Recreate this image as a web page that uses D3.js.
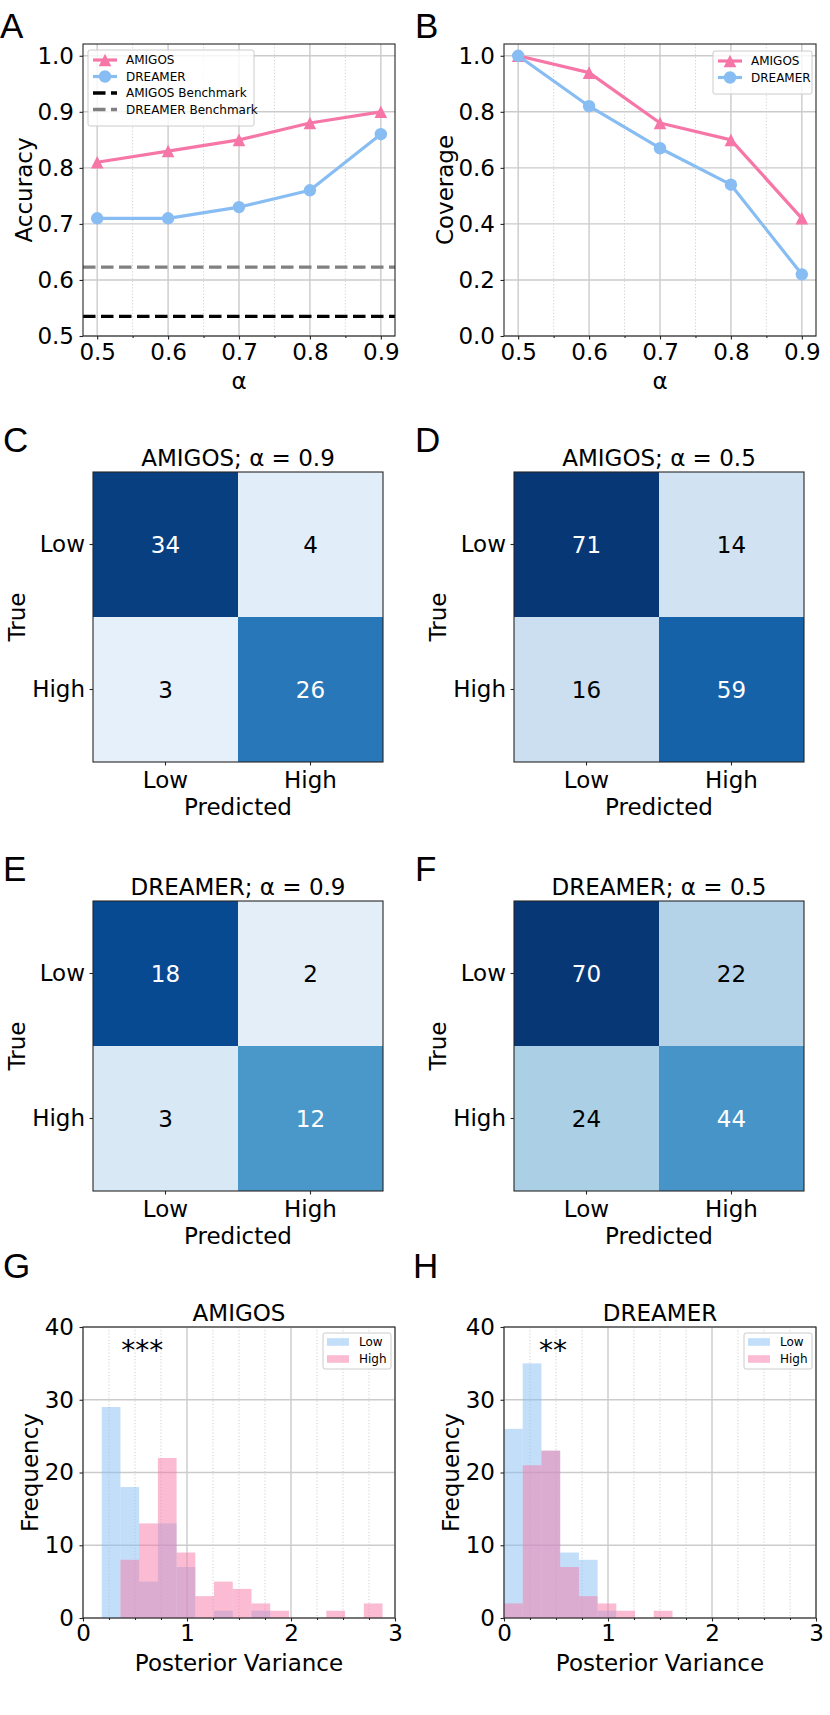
<!DOCTYPE html>
<html>
<head>
<meta charset="utf-8">
<script src="https://cdn.jsdelivr.net/npm/d3@7"></script>
<style>
body { margin: 0; background: #fff; }
text { font-family: "DejaVu Sans", sans-serif; fill: #000; }
.letter { font-family: "Liberation Sans", Arial, sans-serif; font-size: 35px; }
</style>
</head>
<body>
<svg id="fig" width="830" height="1715"></svg>
<script>
// ---- data ----
var alphas = [0.5, 0.6, 0.7, 0.8, 0.9];
var accAmigos = [0.81, 0.83, 0.85, 0.88, 0.90];
var accDreamer = [0.71, 0.71, 0.73, 0.76, 0.86];
var benchAmigos = 0.535;
var benchDreamer = 0.623;
var covAmigos = [1.00, 0.94, 0.76, 0.70, 0.42];
var covDreamer = [1.00, 0.82, 0.67, 0.54, 0.22];
var accTicks = [0.5, 0.6, 0.7, 0.8, 0.9, 1.0];
var covTicks = [0.0, 0.2, 0.4, 0.6, 0.8, 1.0];

var classes = ["Low", "High"];
var cmAmigos09 = [[34, 4], [3, 26]];
var cmAmigos05 = [[71, 14], [16, 59]];
var cmDreamer09 = [[18, 2], [3, 12]];
var cmDreamer05 = [[70, 22], [24, 44]];

var binsAmigos = [0.18, 0.36, 0.54, 0.72, 0.90, 1.08, 1.26, 1.44, 1.62, 1.80, 1.98, 2.16, 2.34, 2.52, 2.70, 2.88];
var histAmigosLow = [29, 18, 5, 13, 7, 0, 1, 0, 1, 0, 0, 0, 0, 0, 0];
var histAmigosHigh = [0, 8, 13, 22, 9, 3, 5, 4, 2, 1, 0, 0, 1, 0, 2];
var binsDreamer = [0, 0.18, 0.36, 0.54, 0.72, 0.90, 1.08, 1.26, 1.44, 1.62];
var histDreamerLow = [26, 35, 23, 9, 8, 1, 0, 0, 0];
var histDreamerHigh = [2, 21, 23, 7, 3, 2, 1, 0, 1];
var freqTicks = [0, 10, 20, 30, 40];
var varTicks = [0, 1, 2, 3];

// ---- styling ----
var pink = "#f677a7", blue = "#87bdf3";
var gridCol = "#cbcbcb", spineCol = "#262626";
var blues = ["#f7fbff", "#deebf7", "#c6dbef", "#9ecae1", "#6baed6", "#4292c6", "#2171b5", "#08519c", "#08306b"];
var FS = 23;

var svg = d3.select("#fig");
svg.append("rect").attr("width", 830).attr("height", 1715).attr("fill", "#fff");

function letter(s, x, y) {
  svg.append("text").attr("class", "letter").attr("x", x).attr("y", y).text(s);
}

function styleAxis(a) {
  a.attr("font-size", FS).attr("font-family", null);
  a.select(".domain").remove();
  a.selectAll(".tick line").attr("stroke", spineCol).attr("stroke-width", 1.1);
}

function spines(g, b) {
  g.append("rect").attr("x", b.l).attr("y", b.t).attr("width", b.r - b.l).attr("height", b.b - b.t)
    .attr("fill", "none").attr("stroke", spineCol).attr("stroke-width", 1.1);
}

function vgrid(g, vals, x, b, dotted) {
  g.selectAll(null).data(vals).enter().append("line")
    .attr("x1", function(d) { return x(d); }).attr("x2", function(d) { return x(d); })
    .attr("y1", b.t).attr("y2", b.b)
    .attr("stroke", gridCol).attr("stroke-width", dotted ? 0.9 : 1.4)
    .attr("stroke-dasharray", dotted ? "1.2,2" : null);
}
function hgrid(g, vals, y, b) {
  g.selectAll(null).data(vals).enter().append("line")
    .attr("y1", function(d) { return y(d); }).attr("y2", function(d) { return y(d); })
    .attr("x1", b.l).attr("x2", b.r)
    .attr("stroke", gridCol).attr("stroke-width", 1.4);
}

function marker(sel, type, color) {
  if (type == "tri") {
    sel.append("path").attr("d", "M0,-6.3L6.3,6.3L-6.3,6.3Z").attr("fill", color);
  } else {
    sel.append("circle").attr("r", 6.2).attr("fill", color);
  }
}

function legendBox(g, x, y, w, h) {
  g.append("rect").attr("x", x).attr("y", y).attr("width", w).attr("height", h).attr("rx", 2)
    .attr("fill", "#fff").attr("fill-opacity", 0.8).attr("stroke", "#cccccc").attr("stroke-width", 1);
}

// ---- line charts (A, B) ----
function lineChart(b, ydom, yticks, ylabel, series, benches, leg) {
  var x = d3.scaleLinear().domain([0.48, 0.92]).range([b.l, b.r]);
  var y = d3.scaleLinear().domain(ydom).range([b.b, b.t]);
  var g = svg.append("g");
  var minor = alphas.slice(1).map(function(a) { return +(a - 0.05).toFixed(2); });
  vgrid(g, minor, x, b, true);
  vgrid(g, alphas, x, b, false);
  hgrid(g, yticks, y, b);

  var line = d3.line().x(function(d, i) { return x(alphas[i]); }).y(function(d) { return y(d); });
  series.forEach(function(s) {
    g.append("path").datum(s.vals).attr("d", line).attr("fill", "none")
      .attr("stroke", s.color).attr("stroke-width", 3.2).attr("stroke-linejoin", "round");
    g.selectAll(null).data(s.vals).enter().append("g")
      .attr("transform", function(d, i) { return "translate(" + x(alphas[i]) + "," + y(d) + ")"; })
      .each(function() { marker(d3.select(this), s.marker, s.color); });
  });
  benches.forEach(function(bn) {
    g.append("line").attr("x1", b.l).attr("x2", b.r).attr("y1", y(bn.val)).attr("y2", y(bn.val))
      .attr("stroke", bn.color).attr("stroke-width", 3.3).attr("stroke-dasharray", "12.5,5.5");
  });

  var ax = g.append("g").attr("transform", "translate(0," + b.b + ")")
    .call(d3.axisBottom(x).tickValues(alphas).tickSize(3.5).tickPadding(4.5).tickFormat(d3.format(".1f")));
  styleAxis(ax);
  var axm = g.append("g").attr("transform", "translate(0," + b.b + ")")
    .call(d3.axisBottom(x).tickValues(minor).tickSize(2).tickFormat(""));
  styleAxis(axm);
  var ay = g.append("g").attr("transform", "translate(" + b.l + ",0)")
    .call(d3.axisLeft(y).tickValues(yticks).tickSize(3.5).tickPadding(5.5).tickFormat(d3.format(".1f")));
  styleAxis(ay);
  spines(g, b);

  g.append("text").attr("x", (b.l + b.r) / 2).attr("y", b.b + 53).attr("text-anchor", "middle")
    .attr("font-size", FS).text("α");
  g.append("text").attr("transform", "translate(" + (b.l - 51) + "," + ((b.t + b.b) / 2) + ") rotate(-90)")
    .attr("text-anchor", "middle").attr("font-size", FS).text(ylabel);

  // legend
  var items = series.map(function(s) { return { name: s.name, color: s.color, marker: s.marker }; })
    .concat(benches.map(function(bn) { return { name: bn.name, color: bn.color, dash: true }; }));
  legendBox(g, leg.x, leg.y, leg.w, 10 + items.length * 16.5);
  items.forEach(function(it, i) {
    var ry = leg.y + 10 + i * 16.5;
    var lx = leg.x + 5;
    g.append("line").attr("x1", lx).attr("x2", lx + 24).attr("y1", ry).attr("y2", ry)
      .attr("stroke", it.color).attr("stroke-width", it.dash ? 3.3 : 3.2)
      .attr("stroke-dasharray", it.dash ? "12.5,5.5" : null);
    if (!it.dash) {
      var m = g.append("g").attr("transform", "translate(" + (lx + 12) + "," + ry + ")");
      marker(m, it.marker, it.color);
    }
    g.append("text").attr("x", lx + 33).attr("y", ry + 4.3).attr("font-size", 12).text(it.name);
  });
}

// ---- confusion matrices (C-F) ----
function matrix(b, vals, title) {
  var g = svg.append("g");
  var bx = d3.scaleBand().domain(classes).range([b.l, b.l + b.s]);
  var by = d3.scaleBand().domain(classes).range([b.t, b.t + b.s]);
  // colour norm runs from 0 to a little above the largest count
  var vmax = d3.max(vals, function(r) { return d3.max(r); }) + 2;
  var col = d3.scaleLinear().domain(blues.map(function(c, i) { return vmax * i / (blues.length - 1); }))
    .range(blues).interpolate(d3.interpolateRgb);
  var cells = [];
  vals.forEach(function(r, i) { r.forEach(function(v, j) { cells.push({ t: classes[i], p: classes[j], v: v }); }); });
  g.selectAll(null).data(cells).enter().append("rect")
    .attr("x", function(d) { return bx(d.p); }).attr("y", function(d) { return by(d.t); })
    .attr("width", bx.bandwidth()).attr("height", by.bandwidth())
    .attr("fill", function(d) { return col(d.v); });
  g.selectAll(null).data(cells).enter().append("text")
    .attr("x", function(d) { return bx(d.p) + bx.bandwidth() / 2; })
    .attr("y", function(d) { return by(d.t) + by.bandwidth() / 2 + 8.3; })
    .attr("text-anchor", "middle").attr("font-size", FS)
    .style("fill", function(d) { return d.v > vmax / 2 ? "#fff" : "#000"; })
    .text(function(d) { return d.v; });
  var ax = g.append("g").attr("transform", "translate(0," + (b.t + b.s) + ")")
    .call(d3.axisBottom(bx).tickSize(3.5).tickPadding(6));
  styleAxis(ax);
  var ay = g.append("g").attr("transform", "translate(" + b.l + ",0)")
    .call(d3.axisLeft(by).tickSize(3.5).tickPadding(4.5));
  styleAxis(ay);
  spines(g, { l: b.l, t: b.t, r: b.l + b.s, b: b.t + b.s });
  g.append("text").attr("x", b.l + b.s / 2).attr("y", b.t - 6).attr("text-anchor", "middle")
    .attr("font-size", FS).text(title);
  g.append("text").attr("x", b.l + b.s / 2).attr("y", b.t + b.s + 53).attr("text-anchor", "middle")
    .attr("font-size", FS).text("Predicted");
  g.append("text").attr("transform", "translate(" + (b.l - 68) + "," + (b.t + b.s / 2) + ") rotate(-90)")
    .attr("text-anchor", "middle").attr("font-size", FS).text("True");
}

// ---- histograms (G, H) ----
function hist(b, bins, low, high, title, stars) {
  var g = svg.append("g");
  var x = d3.scaleLinear().domain([0, 3]).range([b.l, b.r]);
  var y = d3.scaleLinear().domain([0, 40]).range([b.b, b.t]);
  var minor = d3.range(1, 12).map(function(k) { return k * 0.25; }).filter(function(v) { return v % 1 !== 0; });
  vgrid(g, minor, x, b, true);
  vgrid(g, varTicks, x, b, false);
  hgrid(g, freqTicks, y, b);
  [{ c: low, col: blue }, { c: high, col: pink }].forEach(function(s) {
    g.selectAll(null).data(s.c).enter().append("rect")
      .attr("x", function(d, i) { return x(bins[i]); })
      .attr("width", function(d, i) { return x(bins[i + 1]) - x(bins[i]); })
      .attr("y", function(d) { return y(d); })
      .attr("height", function(d) { return y(0) - y(d); })
      .attr("fill", s.col).attr("fill-opacity", 0.5);
  });
  var ax = g.append("g").attr("transform", "translate(0," + b.b + ")")
    .call(d3.axisBottom(x).tickValues(varTicks).tickSize(3.5).tickPadding(3.5).tickFormat(d3.format("d")));
  styleAxis(ax);
  var axm = g.append("g").attr("transform", "translate(0," + b.b + ")")
    .call(d3.axisBottom(x).tickValues(minor).tickSize(2).tickFormat(""));
  styleAxis(axm);
  var ay = g.append("g").attr("transform", "translate(" + b.l + ",0)")
    .call(d3.axisLeft(y).tickValues(freqTicks).tickSize(3.5).tickPadding(5.5).tickFormat(d3.format("d")));
  styleAxis(ay);
  spines(g, b);
  g.append("text").attr("x", (b.l + b.r) / 2).attr("y", b.t - 6).attr("text-anchor", "middle")
    .attr("font-size", FS).text(title);
  g.append("text").attr("x", (b.l + b.r) / 2).attr("y", b.b + 53).attr("text-anchor", "middle")
    .attr("font-size", FS).text("Posterior Variance");
  g.append("text").attr("transform", "translate(" + (b.l - 45) + "," + ((b.t + b.b) / 2) + ") rotate(-90)")
    .attr("text-anchor", "middle").attr("font-size", FS).text("Frequency");
  g.append("text").attr("x", x(stars.x)).attr("y", y(stars.y)).attr("text-anchor", "middle")
    .attr("font-size", 28).text(stars.text);
  // legend
  var lx = b.r - 72, ly = b.t + 6;
  legendBox(g, lx, ly, 68, 36);
  [{ n: "Low", col: blue }, { n: "High", col: pink }].forEach(function(it, i) {
    var ry = ly + 9 + i * 17;
    g.append("rect").attr("x", lx + 4).attr("y", ry - 3.8).attr("width", 22).attr("height", 7.6)
      .attr("fill", it.col).attr("fill-opacity", 0.5);
    g.append("text").attr("x", lx + 36).attr("y", ry + 4.3).attr("font-size", 12).text(it.n);
  });
}

// ---- layout ----
lineChart({ l: 83, t: 44, r: 395, b: 336 }, [0.5, 1.021], accTicks, "Accuracy",
  [{ name: "AMIGOS", vals: accAmigos, color: pink, marker: "tri" },
   { name: "DREAMER", vals: accDreamer, color: blue, marker: "dot" }],
  [{ name: "AMIGOS Benchmark", val: benchAmigos, color: "#000" },
   { name: "DREAMER Benchmark", val: benchDreamer, color: "#808080" }],
  { x: 88, y: 50, w: 166 });
lineChart({ l: 504, t: 44, r: 816, b: 336 }, [0, 1.042], covTicks, "Coverage",
  [{ name: "AMIGOS", vals: covAmigos, color: pink, marker: "tri" },
   { name: "DREAMER", vals: covDreamer, color: blue, marker: "dot" }],
  [], { x: 713, y: 51, w: 99 });

matrix({ l: 93, t: 472, s: 290 }, cmAmigos09, "AMIGOS; α = 0.9");
matrix({ l: 514, t: 472, s: 290 }, cmAmigos05, "AMIGOS; α = 0.5");
matrix({ l: 93, t: 901, s: 290 }, cmDreamer09, "DREAMER; α = 0.9");
matrix({ l: 514, t: 901, s: 290 }, cmDreamer05, "DREAMER; α = 0.5");

hist({ l: 83, t: 1327, r: 395, b: 1618 }, binsAmigos, histAmigosLow, histAmigosHigh, "AMIGOS",
  { text: "***", x: 0.57, y: 35.4 });
hist({ l: 504, t: 1327, r: 816, b: 1618 }, binsDreamer, histDreamerLow, histDreamerHigh, "DREAMER",
  { text: "**", x: 0.47, y: 35.4 });

letter("A", 0, 38); letter("B", 415, 38);
letter("C", 3, 452); letter("D", 415, 452);
letter("E", 3, 881); letter("F", 415, 881);
letter("G", 3, 1278); letter("H", 413, 1278);
</script>
</body>
</html>
